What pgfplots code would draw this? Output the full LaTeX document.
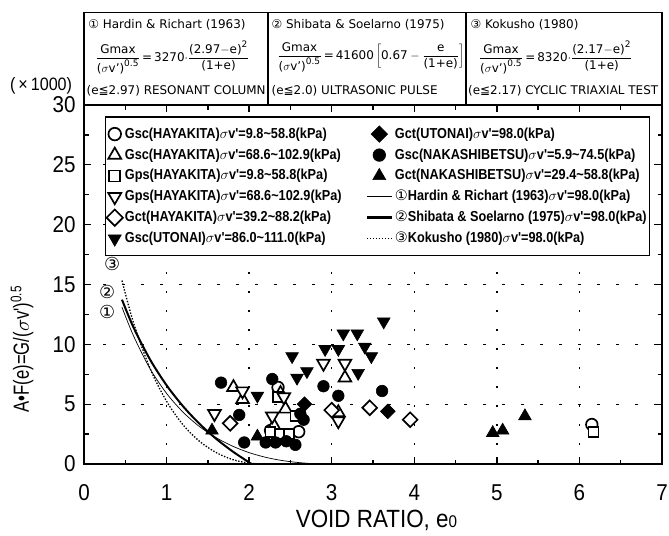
\documentclass[border=0pt]{standalone}
\usepackage{fontspec}
\setmainfont{DejaVu Sans}
\newfontfamily\djfont{DejaVu Sans}
\newfontfamily\axfont[FakeStretch=0.9]{Liberation Sans}
\newfontfamily\lbfont[FakeStretch=0.76]{Liberation Sans}
\newfontfamily\lgfont[FakeStretch=0.88]{Liberation Sans}
\usepackage{pgfplots}
\pgfplotsset{compat=1.18}
\usetikzlibrary{calc}

\newcommand{\tx}[1]{\mbox{#1}}
\newcommand{\sv}{\tx{(}\sigma\tx{v')}}

\pgfplotsset{
  openmk/.style={only marks, mark options={draw=black, fill=white, line width=1.7bp, #1}},
  openmk/.default={},
  fillmk/.style={only marks, mark options={draw=black, fill=black, line width=0.6bp, #1}},
  fillmk/.default={},
}

\begin{document}
\begin{tikzpicture}
\begin{axis}[
  name=ax,
  scale only axis,
  width=578bp, height=359bp,
  xmin=0, xmax=7, ymin=0, ymax=30,
  xtick={0,1,...,7}, ytick={0,5,...,30},
  minor x tick num=1, minor y tick num=1,
  tick align=inside,
  major tick length=7bp, minor tick length=4.5bp,
  every tick/.style={black, line width=1.3bp},
  axis line style={line width=1.8bp},
  xmajorgrids, ymajorgrids,
  major grid style={black, line width=1.3bp, dash pattern=on 2.5bp off 16.5bp},
  clip=false,
  tick label style={font=\axfont\fontsize{23}{23}\selectfont},
  xticklabel style={yshift=-17bp},
  yticklabel style={xshift=-5bp},
  /pgf/number format/assume math mode=true,
  legend columns=2,
  legend cell align=left,
  legend image code/.code={\draw[mark repeat=2, mark phase=2, #1]
    plot coordinates {(0cm,0cm) (0.44cm,0cm) (0.88cm,0cm)};},
  legend style={at={(0.036,0.969)}, anchor=north west, draw=black, line width=1.5bp,
    font=\lgfont\bfseries\fontsize{14.5}{16}\selectfont, row sep=4.8bp,
    inner xsep=1bp, inner ysep=9bp,
    nodes={inner xsep=2bp, inner ysep=1bp, text height=11bp, text depth=3bp},
    /tikz/every even column/.append style={column sep=22bp}},
]
% curves (sigma v' = 98 kPa)
\addplot[black, line width=0.7bp, smooth, forget plot] coordinates {
  (0.46,13.1) (0.6,10.7) (0.8,7.96) (1.0,5.90) (1.2,4.33) (1.4,3.12) (1.6,2.20)
  (1.8,1.49) (2.0,0.95) (2.2,0.56) (2.4,0.29) (2.6,0.12) (2.8,0.02) (2.97,0)
};
\addplot[black, line width=2.0bp, smooth, forget plot] coordinates {
  (0.46,13.73) (0.6,11.41) (0.8,8.73) (1.0,6.58) (1.2,4.82) (1.4,3.35) (1.6,2.11)
  (1.8,1.05) (2.0,0.13) (2.03,0)
};
\addplot[black, line width=1.3bp, dash pattern=on 1.4bp off 1.6bp, smooth, forget plot] coordinates {
  (0.46,15.33) (0.6,11.79) (0.8,7.98) (1.0,5.24) (1.2,3.27) (1.4,1.89) (1.6,0.96)
  (1.8,0.37) (2.0,0.07) (2.17,0)
};

% Gsc(HAYAKITA) 9.8-58.8
\addplot[openmk, mark=*, mark size=5.8bp, forget plot] coordinates {
  (2.35,6.4) (2.6,2.7) (2.26,2.8) (6.15,3.3)
};
% Gsc(HAYAKITA) 68.6-102.9
\addplot[openmk, mark=triangle*, mark size=7.3bp, forget plot] coordinates {
  (1.81,6.4) (1.92,5.4) (2.30,3.2) (2.44,4.6) (3.16,7.2) (3.08,4.3) (2.38,5.9)
};
% Gps(HAYAKITA) 9.8-58.8
\addplot[openmk, mark=square*, mark size=5bp, forget plot] coordinates {
  (2.35,5.6) (2.26,2.7) (2.37,2.5) (2.48,2.5) (2.56,4.0) (6.17,2.7)
};
% Gps(HAYAKITA) 68.6-102.9
\addplot[openmk={rotate=180}, mark=triangle*, mark size=7.3bp, forget plot] coordinates {
  (1.58,4.2) (1.92,6.1) (2.28,4.0) (2.42,5.6) (2.90,8.4) (3.16,8.4) (3.08,3.6)
};
% Gct(HAYAKITA) 39.2-88.2
\addplot[openmk={rotate=45}, mark=square*, mark size=5.2bp, forget plot] coordinates {
  (1.77,3.4) (3.0,4.5) (3.46,4.7) (3.95,3.7)
};
% Gsc(UTONAI) 86.0-111.0
\addplot[fillmk={rotate=180}, mark=triangle*, mark size=7.3bp, forget plot] coordinates {
  (2.10,5.7) (2.52,9.0) (2.58,7.2) (2.70,7.75) (2.92,9.6) (3.08,9.6) (3.14,10.9)
  (3.31,10.9) (3.40,9.8) (3.48,9.0) (3.32,7.6) (3.63,11.9)
};
% Gct(UTONAI) 98.0
\addplot[fillmk={rotate=45}, mark=square*, mark size=5.2bp, forget plot] coordinates {
  (2.67,5.0) (3.68,4.4)
};
% Gsc(NAKASHIBETSU) 5.9-74.5
\addplot[fillmk, mark=*, mark size=5.8bp, forget plot] coordinates {
  (1.66,6.8) (1.88,4.1) (2.28,7.1) (1.94,1.8) (2.20,1.8) (2.32,1.8) (2.56,1.6)
  (2.90,6.5) (3.08,5.7) (3.61,6.1) (2.62,4.2) (2.66,3.7) (2.45,1.9)
};
% Gct(NAKASHIBETSU) 29.4-58.8
\addplot[fillmk, mark=triangle*, mark size=7.3bp, forget plot] coordinates {
  (1.55,2.8) (2.10,2.3) (4.95,2.6) (5.07,2.8) (5.34,4.0)
};

% legend, filled row by row
\addlegendimage{openmk, mark=*, mark size=6.3bp}
\addlegendentry{Gsc(HAYAKITA)$\sigma$v'=9.8\textasciitilde58.8(kPa)}
\addlegendimage{fillmk={rotate=45}, mark=square*, mark size=5.8bp}
\addlegendentry{Gct(UTONAI)$\sigma$v'=98.0(kPa)}
\addlegendimage{openmk, mark=triangle*, mark size=7.5bp}
\addlegendentry{Gsc(HAYAKITA)$\sigma$v'=68.6\textasciitilde102.9(kPa)}
\addlegendimage{fillmk, mark=*, mark size=6.3bp}
\addlegendentry{Gsc(NAKASHIBETSU)$\sigma$v'=5.9\textasciitilde74.5(kPa)}
\addlegendimage{openmk, mark=square*, mark size=5.5bp}
\addlegendentry{Gps(HAYAKITA)$\sigma$v'=9.8\textasciitilde58.8(kPa)}
\addlegendimage{fillmk, mark=triangle*, mark size=7.5bp}
\addlegendentry{Gct(NAKASHIBETSU)$\sigma$v'=29.4\textasciitilde58.8(kPa)}
\addlegendimage{openmk={rotate=180}, mark=triangle*, mark size=7.5bp}
\addlegendentry{Gps(HAYAKITA)$\sigma$v'=68.6\textasciitilde102.9(kPa)}
\addlegendimage{black, line width=0.7bp}
\addlegendentry{{\djfont\mdseries ①}Hardin \& Richart (1963)$\sigma$v'=98.0(kPa)}
\addlegendimage{openmk={rotate=45}, mark=square*, mark size=5.8bp}
\addlegendentry{Gct(HAYAKITA)$\sigma$v'=39.2\textasciitilde88.2(kPa)}
\addlegendimage{black, line width=2.4bp}
\addlegendentry{{\djfont\mdseries ②}Shibata \& Soelarno (1975)$\sigma$v'=98.0(kPa)}
\addlegendimage{fillmk={rotate=180}, mark=triangle*, mark size=7.5bp}
\addlegendentry{Gsc(UTONAI)$\sigma$v'=86.0\textasciitilde111.0(kPa)}
\addlegendimage{black, line width=1.3bp, dash pattern=on 1.4bp off 1.6bp}
\addlegendentry{{\djfont\mdseries ③}Kokusho (1980)$\sigma$v'=98.0(kPa)}

% circled numbers at the curve starts
\node[font=\fontsize{18}{18}\selectfont] at (axis cs:0.34,16.7) {③};
\node[font=\fontsize{18}{18}\selectfont] at (axis cs:0.28,14.4) {②};
\node[font=\fontsize{18}{18}\selectfont] at (axis cs:0.28,12.7) {①};

% axis labels
\node[rotate=90, font=\lbfont\fontsize{22}{22}\selectfont] at (axis description cs:-0.107,0.32)
  {A•F(e)=G/($\sigma$v')\textsuperscript{0.5}};
\node[font=\axfont\fontsize{25}{25}\selectfont] at (axis description cs:0.506,-0.156)
  {VOID RATIO, e{\fontsize{17}{17}\selectfont 0}};

% formula boxes above the plot
\draw[line width=1.3bp] (axis cs:0,30) rectangle (axis cs:7,37.73);
\draw[line width=1.3bp] (axis cs:2.228,30) -- (axis cs:2.228,37.73);
\draw[line width=1.3bp] (axis cs:4.626,30) -- (axis cs:4.626,37.73);
\begin{scope}[every node/.style={anchor=west, inner sep=0pt, font=\fontsize{12}{14}\selectfont}]
\node at (axis cs:0.05,36.68) {① Hardin \& Richart (1963)};
\node at (axis cs:0.14,34.0) {$\displaystyle\frac{\tx{Gmax}}{\sv^{\tx{\fontsize{9}{9}\selectfont 0.5}}}$\,=\,3270$\cdot$$\displaystyle\frac{\tx{(2.97$-$e)}^{\tx{\fontsize{9}{9}\selectfont 2}}}{\tx{(1+e)}}$};
\node at (axis cs:0.03,31.17) {(e≦2.97) RESONANT COLUMN};
\node at (axis cs:2.27,36.68) {② Shibata \& Soelarno (1975)};
\node at (axis cs:2.34,34.0) {$\displaystyle\frac{\tx{Gmax}}{\sv^{\tx{\fontsize{9}{9}\selectfont 0.5}}}$\,=\,41600\,$\displaystyle\left[\tx{0.67}-\frac{\tx{e}}{\tx{(1+e)}}\right]$};
\node at (axis cs:2.27,31.17) {(e≦2.0) ULTRASONIC PULSE};
\node at (axis cs:4.68,36.68) {③ Kokusho (1980)};
\node at (axis cs:4.78,34.0) {$\displaystyle\frac{\tx{Gmax}}{\sv^{\tx{\fontsize{9}{9}\selectfont 0.5}}}$\,=\,8320$\cdot$$\displaystyle\frac{\tx{(2.17$-$e)}^{\tx{\fontsize{9}{9}\selectfont 2}}}{\tx{(1+e)}}$};
\node at (axis cs:4.65,31.17) {(e≦2.17) CYCLIC TRIAXIAL TEST};
\end{scope}
\node[font=\axfont\fontsize{18}{18}\selectfont] at (axis cs:-0.52,31.6) {(\,×\,1000)};
\end{axis}
\pgfresetboundingbox
\path ($(ax.south west)+(-84bp,-71bp)$) rectangle ($(ax.north east)+(7bp,105bp)$);
\end{tikzpicture}
\end{document}
